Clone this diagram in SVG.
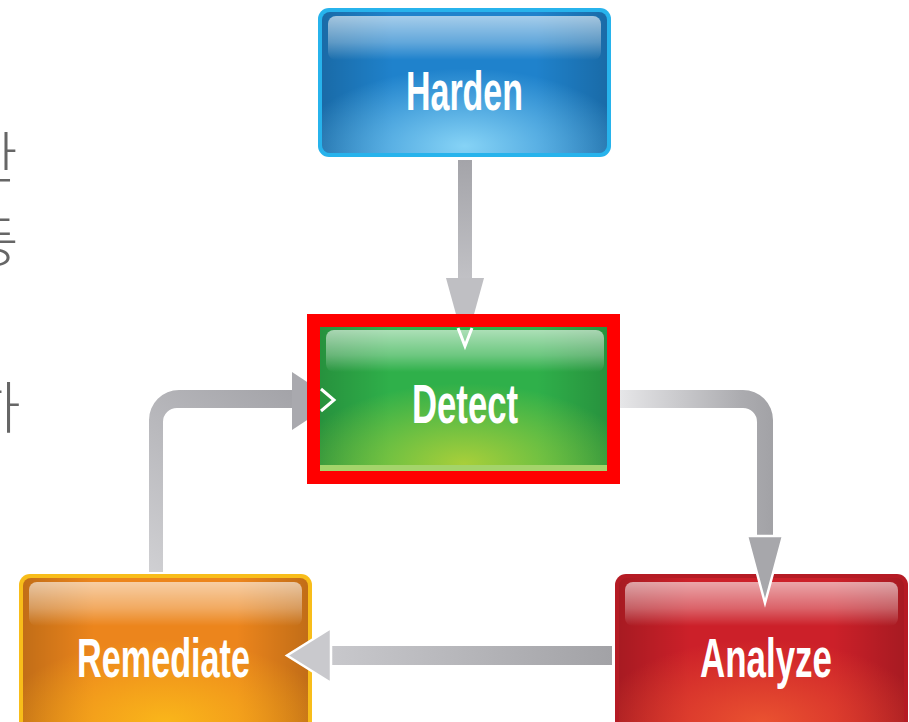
<svg xmlns="http://www.w3.org/2000/svg" width="909" height="722" viewBox="0 0 909 722">
  <style>
    .lbl { font-family: "Liberation Sans", Arial, sans-serif; font-weight: bold; font-size: 55px; fill: #ffffff; text-anchor: middle; }
    .ko { font-family: "Noto Sans CJK KR", sans-serif; font-weight: 300; font-size: 56px; fill: #666666; }
    .head { stroke: #ffffff; stroke-width: 2.5; stroke-linejoin: miter; }
    .chev { fill: none; stroke: #ffffff; stroke-width: 3; stroke-linejoin: miter; }
  </style>
  <defs>
    <linearGradient id="gloss" x1="0" y1="0" x2="0" y2="1">
      <stop offset="0" stop-color="#ffffff" stop-opacity="0.6"/>
      <stop offset="0.6" stop-color="#ffffff" stop-opacity="0.3"/>
      <stop offset="1" stop-color="#ffffff" stop-opacity="0"/>
    </linearGradient>
    <linearGradient id="edge" x1="0" y1="0" x2="1" y2="0">
      <stop offset="0" stop-color="#000000" stop-opacity="0.18"/>
      <stop offset="0.25" stop-color="#000000" stop-opacity="0"/>
      <stop offset="0.75" stop-color="#000000" stop-opacity="0"/>
      <stop offset="1" stop-color="#000000" stop-opacity="0.18"/>
    </linearGradient>
    <radialGradient id="glowBlue" cx="0.5" cy="1" r="0.6" fx="0.5" fy="0.95">
      <stop offset="0" stop-color="#86d3f6" stop-opacity="1"/>
      <stop offset="1" stop-color="#86d3f6" stop-opacity="0"/>
    </radialGradient>
    <radialGradient id="glowGreen" cx="0.5" cy="1" r="0.6" fx="0.5" fy="0.95">
      <stop offset="0" stop-color="#a8cf3a" stop-opacity="1"/>
      <stop offset="1" stop-color="#a8cf3a" stop-opacity="0"/>
    </radialGradient>
    <radialGradient id="glowOrange" cx="0.5" cy="1" r="0.6" fx="0.5" fy="0.95">
      <stop offset="0" stop-color="#fab61a" stop-opacity="1"/>
      <stop offset="1" stop-color="#fab61a" stop-opacity="0"/>
    </radialGradient>
    <radialGradient id="glowRed" cx="0.5" cy="1" r="0.6" fx="0.5" fy="0.95">
      <stop offset="0" stop-color="#ea5230" stop-opacity="1"/>
      <stop offset="1" stop-color="#ea5230" stop-opacity="0"/>
    </radialGradient>
    <linearGradient id="gVert" x1="0" y1="160" x2="0" y2="300" gradientUnits="userSpaceOnUse">
      <stop offset="0" stop-color="#a4a4a9"/>
      <stop offset="1" stop-color="#c6c6ca"/>
    </linearGradient>
    <linearGradient id="gDA" x1="620" y1="0" x2="773" y2="0" gradientUnits="userSpaceOnUse">
      <stop offset="0" stop-color="#e6e6e8"/>
      <stop offset="0.8" stop-color="#ababaf"/>
      <stop offset="1" stop-color="#a2a2a6"/>
    </linearGradient>
    <linearGradient id="gAR" x1="330" y1="0" x2="612" y2="0" gradientUnits="userSpaceOnUse">
      <stop offset="0" stop-color="#c8c8cc"/>
      <stop offset="1" stop-color="#a2a2a6"/>
    </linearGradient>
    <linearGradient id="gRD" x1="155" y1="572" x2="295" y2="390" gradientUnits="userSpaceOnUse">
      <stop offset="0" stop-color="#cfcfd2"/>
      <stop offset="1" stop-color="#a3a3a8"/>
    </linearGradient>
  </defs>

  <rect x="0" y="0" width="909" height="722" fill="#ffffff"/>

  <g id="side-text">
    <text class="ko" x="-34" y="178">한</text>
    <text class="ko" x="-33" y="262">등</text>
    <text class="ko" x="-31" y="428">하</text>
  </g>

  <g id="connectors-back">
    <!-- Harden to Detect -->
    <rect x="458" y="160" width="14" height="120" fill="url(#gVert)"/>
    <polygon points="446,278 484,278 465,347" fill="#bfbfc3"/>
    <!-- Remediate to Detect -->
    <path d="M149 572 V420 A30 30 0 0 1 179 390 H295 V408 H177 A14 14 0 0 0 163 422 V572 Z" fill="url(#gRD)"/>
    <polygon points="292,372 292,430 336,401" fill="#a9a9ae"/>
    <!-- Detect to Analyze shaft -->
    <path d="M612 390 H743 A30 30 0 0 1 773 420 V540 H757 V422 A14 14 0 0 0 743 408 H612 Z" fill="url(#gDA)"/>
    <!-- Analyze to Remediate shaft -->
    <rect x="328" y="646" width="284" height="19" fill="url(#gAR)"/>
  </g>

  <g id="node-harden">
    <rect x="318" y="8" width="293" height="149" rx="11" fill="#27b3ec"/>
    <rect x="322" y="12" width="285" height="141" rx="8" fill="#1f82cc"/>
    <rect x="322" y="12" width="285" height="141" rx="8" fill="url(#edge)"/>
    <rect x="322" y="12" width="285" height="141" rx="8" fill="url(#glowBlue)"/>
    <rect x="328" y="16" width="273" height="44" rx="8" fill="url(#gloss)"/>
    <text class="lbl" x="464.5" y="110" textLength="117" lengthAdjust="spacingAndGlyphs">Harden</text>
  </g>

  <g id="node-detect">
    <rect x="316" y="323" width="296" height="152" rx="10" fill="#22a84a"/>
    <rect x="318" y="325" width="292" height="146" rx="8" fill="#2fb04a"/>
    <rect x="318" y="325" width="292" height="146" rx="8" fill="url(#edge)"/>
    <rect x="318" y="325" width="292" height="146" rx="8" fill="url(#glowGreen)"/>
    <rect x="318" y="465" width="292" height="8" fill="#a4d46a"/>
    <rect x="326" y="330" width="278" height="42" rx="8" fill="url(#gloss)"/>
    <text class="lbl" x="465" y="423" textLength="106" lengthAdjust="spacingAndGlyphs">Detect</text>
  </g>

  <g id="node-remediate">
    <rect x="19" y="574" width="293" height="160" rx="11" fill="#f8bd1a"/>
    <rect x="23" y="578" width="285" height="152" rx="8" fill="#ec851c"/>
    <rect x="23" y="578" width="285" height="152" rx="8" fill="url(#edge)"/>
    <rect x="23" y="578" width="285" height="152" rx="8" fill="url(#glowOrange)"/>
    <rect x="29" y="582" width="273" height="44" rx="8" fill="url(#gloss)"/>
    <text class="lbl" x="163.5" y="677" textLength="173" lengthAdjust="spacingAndGlyphs">Remediate</text>
  </g>

  <g id="node-analyze">
    <rect x="615" y="574" width="293" height="160" rx="11" fill="#b51b24"/>
    <rect x="619" y="578" width="285" height="152" rx="8" fill="#cc2029"/>
    <rect x="619" y="578" width="285" height="152" rx="8" fill="url(#edge)"/>
    <rect x="619" y="578" width="285" height="152" rx="8" fill="url(#glowRed)"/>
    <rect x="625" y="582" width="273" height="44" rx="8" fill="url(#gloss)"/>
    <text class="lbl" x="766" y="677" textLength="132" lengthAdjust="spacingAndGlyphs">Analyze</text>
  </g>

  <g id="connectors-front">
    <!-- Detect to Analyze head -->
    <polygon class="head" points="747,536 783,536 765,603" fill="#a7a7ab"/>
    <!-- Analyze to Remediate head -->
    <polygon class="head" points="331,628 331,683 287,655.5" fill="#c9c9cd"/>
    <!-- arrow tips visible inside Detect -->
    <polyline class="chev" points="458,328 465,346 472,328"/>
    <polyline class="chev" points="321,389 334,400 321,411"/>
  </g>

  <g id="highlight">
    <rect x="313.5" y="320.5" width="300" height="157" fill="none" stroke="#ff0000" stroke-width="13"/>
  </g>
</svg>
